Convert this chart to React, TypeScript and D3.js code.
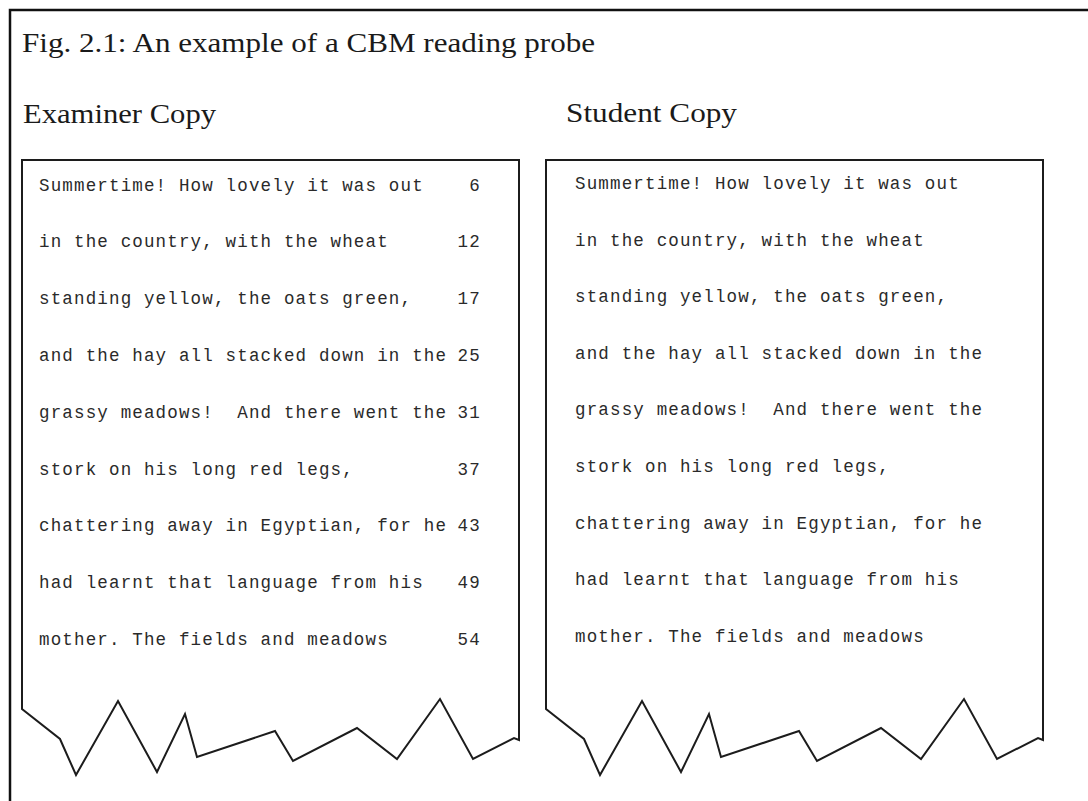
import React from "react";
import * as d3 from "d3";

const title = "Fig. 2.1: An example of a CBM reading probe";
const panelTitles = ["Examiner Copy", "Student Copy"];
const passageLines = [
  "Summertime! How lovely it was out",
  "in the country, with the wheat",
  "standing yellow, the oats green,",
  "and the hay all stacked down in the",
  "grassy meadows!  And there went the",
  "stork on his long red legs,",
  "chattering away in Egyptian, for he",
  "had learnt that language from his",
  "mother. The fields and meadows",
];
const wordCounts = [6, 12, 17, 25, 31, 37, 43, 49, 54];
// torn-paper bottom edge (x, y) of a copy, left to right
const tornEdge: [number, number][] = [
  [22, 709], [60, 739], [76, 775], [118, 701], [157, 772], [185, 714],
  [197, 757], [275, 731], [293, 761], [357, 728], [397, 759], [440, 699],
  [473, 759], [514, 738], [519, 740],
];

const W = 1088;
const H = 801;
const MONO = "'Liberation Mono', 'DejaVu Sans Mono', monospace";
const SERIF = "'Liberation Serif', 'DejaVu Serif', serif";

function Copy({ dx, textX, firstBase, step, showCounts }: { dx: number; textX: number; firstBase: number; step: number; showCounts: boolean }) {
  const left = tornEdge[0][0] + dx;
  const right = tornEdge[tornEdge.length - 1][0] + dx;
  const top = 160;
  const pts: [number, number][] = [
    [left, top],
    [right, top],
    ...tornEdge.map(([x, y]) => [x + dx, y] as [number, number]).reverse(),
  ];
  const line = d3.line<[number, number]>().x((p) => p[0]).y((p) => p[1]);
  const d = line(pts) + "Z";
  const y = d3
    .scaleLinear()
    .domain([0, passageLines.length - 1])
    .range([firstBase, firstBase + step * (passageLines.length - 1)]);
  const charW = 11.66;
  const fs = 17.5;
  const ls = charW - fs * 0.6;
  return (
    <g>
      <path d={d} fill="white" stroke="#1c1c1c" strokeWidth={2} strokeLinejoin="miter" />
      {passageLines.map((t, i) => (
        <text key={i} x={textX} y={y(i)} fontFamily={MONO} fontSize={fs} letterSpacing={ls} fill="#2a2a2a" style={{ whiteSpace: "pre" }}>
          {t}
        </text>
      ))}
      {showCounts &&
        wordCounts.map((c, i) => (
          <text key={"c" + i} x={textX + 38 * charW - ls} y={y(i)} textAnchor="end" fontFamily={MONO} fontSize={fs} letterSpacing={ls} fill="#2a2a2a">
            {String(c)}
          </text>
        ))}
    </g>
  );
}

export default function App() {
  return (
    <svg width={W} height={H} style={{ position: "absolute", left: 0, top: 0, background: "white" }}>
      <rect x={0} y={0} width={W} height={H} fill="white" />
      <rect x={10} y={10} width={W + 50} height={H + 50} fill="none" stroke="#111" strokeWidth={2.5} />
      <text x={22} y={52} fontFamily={SERIF} fontSize={27} fill="#1a1a1a" textLength={573} lengthAdjust="spacingAndGlyphs">
        {title}
      </text>
      <text x={23} y={123} fontFamily={SERIF} fontSize={27} fill="#1a1a1a" textLength={193} lengthAdjust="spacingAndGlyphs">
        {panelTitles[0]}
      </text>
      <text x={566} y={122} fontFamily={SERIF} fontSize={27} fill="#1a1a1a" textLength={171} lengthAdjust="spacingAndGlyphs">
        {panelTitles[1]}
      </text>
      <Copy dx={0} textX={39} firstBase={190.5} step={56.8} showCounts={true} />
      <Copy dx={524} textX={575} firstBase={189} step={56.6} showCounts={false} />
    </svg>
  );
}
